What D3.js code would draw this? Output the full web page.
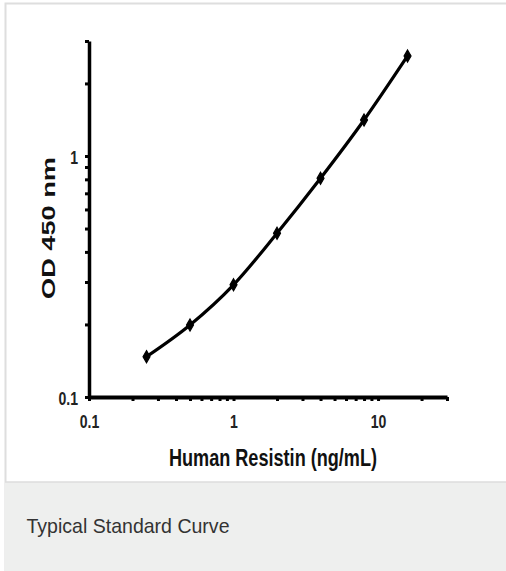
<!DOCTYPE html>
<html>
<head>
<meta charset="utf-8">
<script src="https://cdn.jsdelivr.net/npm/d3@7"></script>
<style>
    body { margin: 0; background: #fff; }
    svg { display: block; }
</style>
</head>
<body>
<div id="chart"></div>
<script>
// standard curve data
var concentrations = [0.25, 0.5, 1, 2, 4, 8, 16];
var odValues = [0.147, 0.199, 0.292, 0.478, 0.808, 1.41, 2.60];
var xTickValues = [0.1, 0.2, 0.3, 0.4, 0.5, 0.6, 0.7, 0.8, 0.9, 1, 2, 3, 4, 5, 6, 7, 8, 9, 10, 20, 30];
var xTickLabels = [0.1, 1, 10];
var yTickValues = [0.1, 0.2, 0.3, 0.4, 0.5, 0.6, 0.7, 0.8, 0.9, 1, 2, 3];
var yTickLabels = [0.1, 1];
var xTitle = "Human Resistin (ng/mL)";
var yTitle = "OD 450 nm";
var caption = "Typical Standard Curve";

standard_curve_graph()

function standard_curve_graph() {
    var width = 506,
        height = 571;
    var font = "'Liberation Sans', Arial, sans-serif";

    var svg = d3.select("#chart").append("svg")
        .attr("width", width)
        .attr("height", height);

    // panel frame + caption band
    svg.append("rect")
        .attr("x", 5.5).attr("y", 3.5)
        .attr("width", width).attr("height", height)
        .attr("fill", "#fff")
        .attr("stroke", "#dedede")
        .attr("stroke-width", 2);
    svg.append("rect")
        .attr("x", 5).attr("y", 482)
        .attr("width", width).attr("height", height - 482)
        .attr("fill", "#eeefee");
    svg.append("line")
        .attr("x1", 5).attr("x2", width)
        .attr("y1", 482).attr("y2", 482)
        .attr("stroke", "#dcdcdc")
        .attr("stroke-width", 1.5);
    svg.append("text")
        .attr("x", 26.5)
        .attr("y", 533)
        .attr("textLength", 203)
        .attr("lengthAdjust", "spacingAndGlyphs")
        .style("font-family", font)
        .style("font-size", "21px")
        .style("fill", "#333")
        .text(caption);

    // scales
    var x = d3.scaleLog()
        .domain([0.1, 30])
        .range([89, 447]);
    var y = d3.scaleLog()
        .domain([0.1, 3])
        .range([397, 41]);

    // y axis
    var yAxis = svg.append("g")
        .attr("transform", "translate(" + x(0.1) + ",0)")
        .call(d3.axisLeft(y)
            .tickValues(yTickValues)
            .tickSize(4)
            .tickSizeOuter(0)
            .tickFormat(function (d) { return yTickLabels.indexOf(d) >= 0 ? d3.format("")(d) : ""; }));
    yAxis.select(".domain").attr("stroke", "#000").attr("stroke-width", 3.5);
    yAxis.selectAll(".tick line").attr("stroke", "#000").attr("stroke-width", 3);
    yAxis.selectAll(".tick text")
        .attr("x", 0)
        .attr("dy", "0.36em")
        .attr("transform", "translate(-11,1) scale(0.74,1)")
        .attr("font-family", font)
        .attr("font-weight", "bold")
        .attr("font-size", 19)
        .attr("fill", "#222");

    // x axis
    var xAxis = svg.append("g")
        .attr("transform", "translate(0," + y(0.1) + ")")
        .call(d3.axisBottom(x)
            .tickValues(xTickValues)
            .tickSize(4)
            .tickSizeOuter(0)
            .tickFormat(function (d) { return xTickLabels.indexOf(d) >= 0 ? d3.format("")(d) : ""; }));
    xAxis.select(".domain").attr("stroke", "#000").attr("stroke-width", 4);
    xAxis.selectAll(".tick line").attr("stroke", "#000").attr("stroke-width", 3);
    xAxis.selectAll(".tick text")
        .attr("y", 0)
        .attr("dy", 0)
        .attr("transform", "translate(0,31) scale(0.74,1)")
        .attr("font-family", font)
        .attr("font-weight", "bold")
        .attr("font-size", 19)
        .attr("fill", "#222");

    // axis titles
    svg.append("text")
        .attr("transform", "translate(273,466) scale(0.77,1)")
        .style("text-anchor", "middle")
        .style("font-family", font)
        .style("font-weight", "bold")
        .style("font-size", "23.5px")
        .style("fill", "#111")
        .text(xTitle);

    svg.append("text")
        .attr("transform", "translate(55,228) rotate(-90)")
        .attr("textLength", 142)
        .attr("lengthAdjust", "spacingAndGlyphs")
        .attr("x", -71)
        .style("font-family", font)
        .style("font-weight", "bold")
        .style("font-size", "17.5px")
        .style("fill", "#111")
        .text(yTitle);

    // curve
    var points = concentrations.map(function (c, i) { return { conc: c, od: odValues[i] }; });
    var line = d3.line()
        .curve(d3.curveMonotoneX)
        .x(function (d) { return x(d.conc); })
        .y(function (d) { return y(d.od); });

    svg.append("path")
        .datum(points)
        .attr("d", line)
        .attr("fill", "none")
        .attr("stroke", "#000")
        .attr("stroke-width", 3.2);

    svg.selectAll("mymarker")
        .data(points)
        .enter()
        .append("path")
        .attr("transform", function (d) { return "translate(" + x(d.conc) + "," + y(d.od) + ")"; })
        .attr("d", d3.symbol().type(d3.symbolDiamond).size(42))
        .attr("fill", "#000")
        .attr("stroke", "#000")
        .attr("stroke-width", 1.2);
}
</script>
</body>
</html>
